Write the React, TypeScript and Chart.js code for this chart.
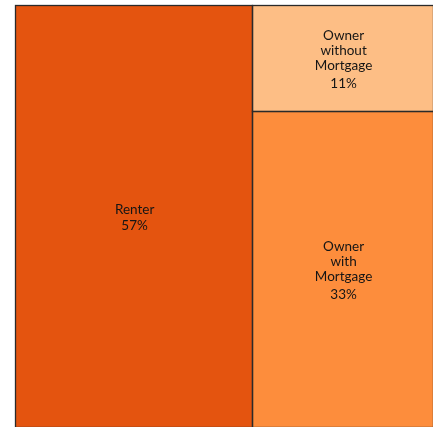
import React, { useEffect, useRef } from "react";
import { Chart, registerables } from "chart.js";

Chart.register(...registerables);

const categories: string[] = ["Renter", "Owner without Mortgage", "Owner with Mortgage"];
const labelLines: string[][] = [["Renter"], ["Owner", "without", "Mortgage"], ["Owner", "with", "Mortgage"]];
const shares: number[] = [57.2, 11.0, 32.6];
const colors: string[] = ["#E4540F", "#FDBE85", "#FD8D3C"];

type Rect = { x0: number; x1: number; y0: number; y1: number };

function layout(values: number[]): Rect[] {
  const total = values.reduce((a, b) => a + b, 0);
  const rects: Rect[] = [];
  const w0 = values[0] / total;
  rects.push({ x0: 0, x1: w0, y0: 0, y1: 1 });
  const rest = values.slice(1);
  const restTotal = rest.reduce((a, b) => a + b, 0);
  let y = 0;
  rest.forEach((v) => {
    const h = v / restTotal;
    rects.push({ x0: w0, x1: 1, y0: y, y1: y + h });
    y += h;
  });
  return rects;
}

const treemapPlugin = {
  id: "treemapRects",
  beforeDatasetsDraw(chart: any) {
    const { ctx, scales } = chart;
    const xs = scales.x;
    const ys = scales.y;
    const rects = layout(shares);
    ctx.save();
    rects.forEach((r, i) => {
      const left = xs.getPixelForValue(r.x0);
      const right = xs.getPixelForValue(r.x1);
      const top = ys.getPixelForValue(r.y0);
      const bottom = ys.getPixelForValue(r.y1);
      ctx.fillStyle = colors[i];
      ctx.fillRect(left, top, right - left, bottom - top);
    });
    rects.forEach((r) => {
      const left = Math.round(xs.getPixelForValue(r.x0)) + 0.5;
      const right = Math.round(xs.getPixelForValue(r.x1)) + 0.5;
      const top = Math.round(ys.getPixelForValue(r.y0)) + 0.5;
      const bottom = Math.round(ys.getPixelForValue(r.y1)) + 0.5;
      ctx.strokeStyle = "#2a2a2a";
      ctx.lineWidth = 1.3;
      ctx.strokeRect(left, top, right - left, bottom - top);
    });
    ctx.fillStyle = "#151515";
    ctx.font = "13.5px Lato, 'Noto Sans', sans-serif";
    ctx.textAlign = "center";
    ctx.textBaseline = "middle";
    rects.forEach((r, i) => {
      const cx = (xs.getPixelForValue(r.x0) + xs.getPixelForValue(r.x1)) / 2 + 1;
      const cy = (ys.getPixelForValue(r.y0) + ys.getPixelForValue(r.y1)) / 2 + 1.5;
      const lines = labelLines[i];
      const lh = 15;
      const gap = lines.length > 1 ? 18 : 16;
      const totalH = (lines.length - 1) * lh + gap;
      const ty = cy - totalH / 2;
      lines.forEach((t, k) => {
        ctx.fillText(t, cx, ty + k * lh);
      });
      ctx.fillText(Math.round(shares[i]) + "%", cx, ty + (lines.length - 1) * lh + gap);
    });
    ctx.restore();
  },
};

export default function App() {
  const ref = useRef<HTMLCanvasElement | null>(null);
  useEffect(() => {
    if (!ref.current) return;
    const chart = new Chart(ref.current, {
      type: "scatter",
      data: { labels: categories, datasets: [] },
      options: {
        animation: false,
        responsive: false,
        maintainAspectRatio: false,
        layout: { padding: { left: 15, top: 5, right: 0, bottom: 0 } },
        plugins: { legend: { display: false }, tooltip: { enabled: false } },
        scales: {
          x: { type: "linear", min: 0, max: 1, display: false },
          y: { type: "linear", min: 0, max: 1, reverse: true, display: false },
        },
      },
      plugins: [treemapPlugin],
    } as any);
    return () => chart.destroy();
  }, []);
  return (
    <div style={{ position: "fixed", left: 0, top: 0, width: 433, height: 427, background: "#fff" }}>
      <canvas ref={ref} width={433} height={427} style={{ display: "block" }} />
    </div>
  );
}
